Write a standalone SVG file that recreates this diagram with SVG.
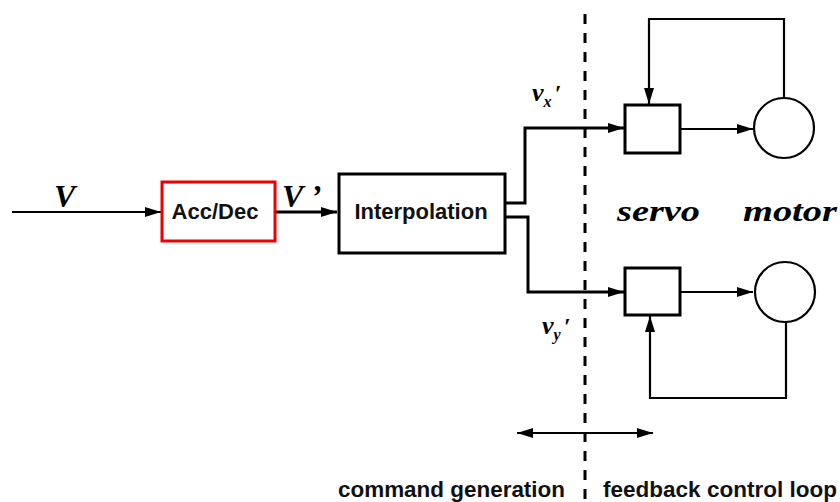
<svg xmlns="http://www.w3.org/2000/svg" width="840" height="502" viewBox="0 0 840 502">
<style>
.ln{stroke:#000;stroke-width:2.2;fill:none}
.thick{stroke:#000;stroke-width:3;fill:none}
.box{fill:#fff;stroke:#000;stroke-width:3}
.lbl{font-family:"Liberation Sans",Arial,sans-serif;font-weight:bold;font-size:22px;fill:#111}
.math{font-family:"Liberation Serif","Times New Roman",serif;font-weight:bold;font-style:italic;fill:#000}
</style>
<defs>
<marker id="ah" markerUnits="userSpaceOnUse" markerWidth="18" markerHeight="12" refX="16" refY="6" orient="auto">
<path d="M0,1 L16,6 L0,11 Z" fill="#000"/>
</marker>
<marker id="ahs" markerUnits="userSpaceOnUse" markerWidth="18" markerHeight="12" refX="16" refY="6" orient="auto-start-reverse">
<path d="M0,1 L16,6 L0,11 Z" fill="#000"/>
</marker>
</defs>
<rect width="840" height="502" fill="#fff"/>

<g id="connectors">
<line class="ln" x1="12" y1="212" x2="161" y2="212" marker-end="url(#ah)"/>
<line class="thick" x1="276" y1="212" x2="337" y2="212" marker-end="url(#ah)"/>
<polyline class="thick" points="505,203 525,203 525,128 624,128" marker-end="url(#ah)"/>
<polyline class="thick" points="505,217 528,217 528,292 624,292" marker-end="url(#ah)"/>
<line class="ln" x1="680" y1="129" x2="753" y2="129" marker-end="url(#ah)"/>
<polyline class="ln" points="784,98 784,19 649,19 649,104" marker-end="url(#ah)"/>
<line class="ln" x1="680" y1="292" x2="753" y2="292" marker-end="url(#ah)"/>
<polyline class="ln" points="786,322 786,398 650,398 650,316" marker-end="url(#ah)"/>
<line class="ln" x1="517" y1="433" x2="653" y2="433" marker-start="url(#ahs)" marker-end="url(#ah)"/>
<line x1="585" y1="14" x2="585" y2="502" stroke="#000" stroke-width="3" stroke-dasharray="10,9"/>
</g>

<g id="acc-dec">
<rect x="162" y="182" width="113" height="59" fill="#fff" stroke="#e00" stroke-width="3"/>
<text class="lbl" x="215" y="219" text-anchor="middle">Acc/Dec</text>
</g>

<g id="interpolation">
<rect class="box" x="339" y="174" width="166" height="79"/>
<text class="lbl" x="421" y="219" text-anchor="middle">Interpolation</text>
</g>

<g id="servo-x">
<rect class="box" x="625" y="105" width="55" height="48"/>
</g>
<g id="motor-x">
<circle cx="784" cy="128" r="30" fill="#fff" stroke="#000" stroke-width="2.2"/>
</g>
<g id="servo-y">
<rect class="box" x="625" y="268" width="55" height="47"/>
</g>
<g id="motor-y">
<circle cx="785" cy="292" r="30" fill="#fff" stroke="#000" stroke-width="2.2"/>
</g>

<g id="labels">
<text class="math" x="54" y="207" font-size="32">V</text>
<text class="math" x="282" y="207" font-size="32">V ’</text>
<text class="math" x="532" y="101" font-size="26">v<tspan font-size="16" dy="6">x</tspan><tspan dy="-6" font-size="24" dx="3">′</tspan></text>
<text class="math" x="542" y="334" font-size="26">v<tspan font-size="16" dy="6">y</tspan><tspan dy="-6" font-size="24" dx="3">′</tspan></text>
<text class="math" x="617" y="221" font-size="30" textLength="83" lengthAdjust="spacingAndGlyphs">servo</text>
<text class="math" x="743" y="221" font-size="30" textLength="94" lengthAdjust="spacingAndGlyphs">motor</text>
<text class="lbl" x="338" y="497" textLength="227" lengthAdjust="spacingAndGlyphs">command generation</text>
<text class="lbl" x="603" y="497" textLength="234" lengthAdjust="spacingAndGlyphs">feedback control loop</text>
</g>
</svg>
